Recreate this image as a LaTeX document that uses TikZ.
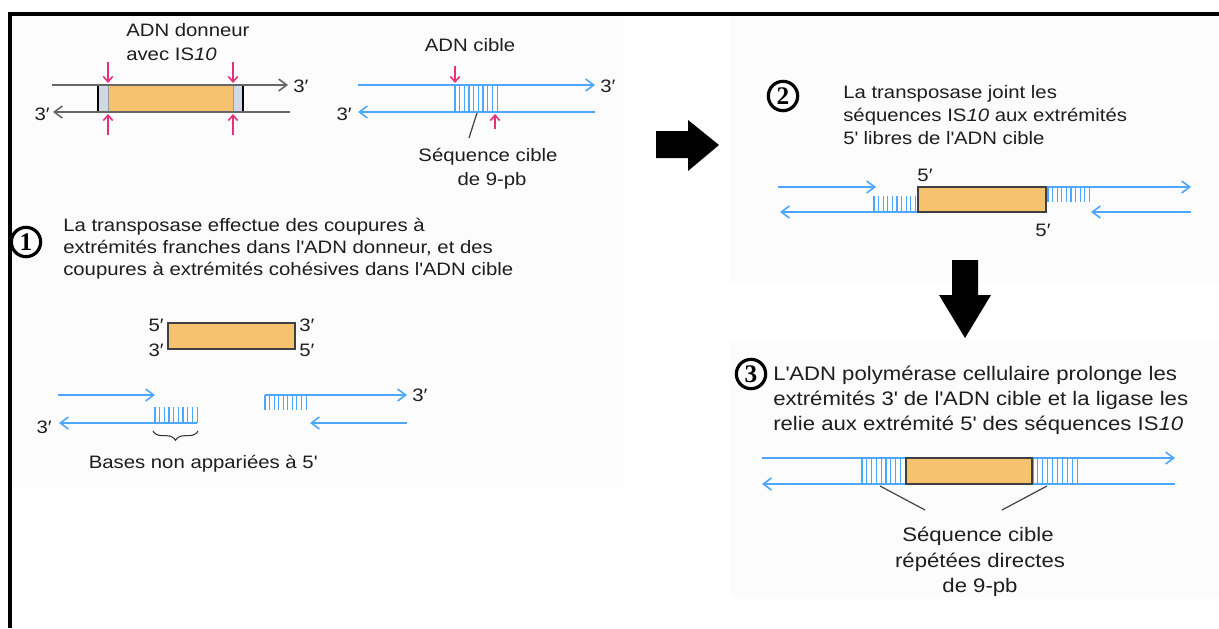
\documentclass[tikz,border=0pt]{standalone}
\usepackage{fontspec}
\setmainfont{Liberation Sans}[FakeStretch=1.13]
\newfontfamily\numfont{Liberation Serif}
\usetikzlibrary{arrows.meta,decorations.pathreplacing}
\definecolor{dna}{RGB}{77,166,255}
\definecolor{ora}{RGB}{246,194,112}
\definecolor{pinkc}{RGB}{232,48,122}
\definecolor{txt}{RGB}{30,30,30}
\definecolor{panel}{RGB}{252,252,252}
\definecolor{endgray}{RGB}{208,216,226}
\newcommand\q{\textquotesingle}
\begin{document}
\begin{tikzpicture}[x=0.75pt,y=-0.75pt,
  ln/.style={font=\fontsize{13.5}{16}\selectfont, text=txt, inner sep=0pt, text height=9.7pt, text depth=0pt, anchor=west},
  ctr/.style={ln, anchor=center},
  lnb/.style={ln, font=\fontsize{14.7}{18}\selectfont, text height=10.6pt},
  ctrb/.style={lnb, anchor=center},
  strand/.style={draw=dna, line width=1.5pt},
  fwd/.style={strand, -{Straight Barb[length=6pt,width=9pt,line width=1.2pt]}},
  gstrand/.style={draw=black!60, line width=1.5pt},
  gfwd/.style={gstrand, -{Straight Barb[length=6pt,width=9pt,line width=1.2pt]}},
  hatch/.style={draw=dna, line width=0.8pt},
  cut/.style={draw=pinkc, line width=1.2pt, -{Straight Barb[length=4pt,width=7pt]}},
  isbox/.style={fill=ora, draw=black!75, line width=1.2pt},
  leader/.style={draw=black!75, line width=0.9pt},
  circnum/.style={circle, draw=black, line width=2.4pt, minimum size=22pt, inner sep=0pt, font=\numfont\bfseries\fontsize{19}{19}\selectfont},
]
\useasboundingbox (0,0) rectangle (1219,628);
\fill[white] (0,0) rectangle (1219,628);
% faint panels
\fill[panel] (12,16) rectangle (624,488);
\fill[panel] (730,16) rectangle (1219,282);
\fill[panel] (730,342) rectangle (1219,597);
% frame
\draw[line width=3pt] (8,14) -- (1219,14);
\draw[line width=3pt] (10,12) -- (10,628);

% ---------- donor DNA ----------
\node[ln] (don1) at (126,30) {ADN donneur};
\node[ln] (don2) at (126,54) {avec IS\textit{10}};
\fill[endgray] (98,85) rectangle (108,112);
\fill[endgray] (233,85) rectangle (243,112);
\fill[ora] (108,85) rectangle (233,112);
\draw[black!40, line width=0.6pt] (108,85) -- (108,112) (233,85) -- (233,112);
\draw[black, line width=1.2pt] (98,85) -- (98,112) (243,85) -- (243,112);
\draw[gfwd] (52,85) -- (288,85);
\draw[gfwd] (290,112) -- (53,112);
\node[ln] (d3a) at (293,86) {3′};
\node[ln, anchor=east] (d3b) at (50,114) {3′};
\draw[cut] (108,62) -- (108,83);
\draw[cut] (108,135) -- (108,114);
\draw[cut] (233,62) -- (233,83);
\draw[cut] (233,135) -- (233,114);

% ---------- target DNA ----------
\node[ctr] (cib) at (470,45) {ADN cible};
\foreach \i in {0,...,9} \draw[hatch] ({455+\i*4.67},85) -- ({455+\i*4.67},112);
\draw[fwd] (358,85) -- (595,85);
\draw[fwd] (595,112) -- (358,112);
\node[ln] (t3a) at (600,86) {3′};
\node[ln, anchor=east] (t3b) at (352,114) {3′};
\draw[cut] (455,66) -- (455,83);
\draw[cut] (495,129) -- (495,114);
\node[ctr] (seq1) at (488,155) {Séquence cible};
\node[ctr] (seq2) at (492,179) {de 9-pb};
\draw[leader] (477,113) -- (469,138);

% ---------- step 1 ----------
\node[circnum] (c1) at (26,242) {1};
\node[ln] (s1a) at (63,225) {La transposase effectue des coupures à};
\node[ln] (s1b) at (63,247) {extrémités franches dans l\q ADN donneur, et des};
\node[ln] (s1c) at (63,269) {coupures à extrémités cohésives dans l\q ADN cible};

\draw[isbox] (168,323) rectangle (295,349);
\node[ln, anchor=east] (b5l) at (164,325) {5′};
\node[ln, anchor=east] (b3l) at (164,350) {3′};
\node[ln] (b3r) at (299,325) {3′};
\node[ln] (b5r) at (299,350) {5′};

\foreach \i in {0,...,9} \draw[hatch] ({155+\i*4.67},407) -- ({155+\i*4.67},423);
\draw[fwd] (58,395) -- (155,395);
\draw[fwd] (197,423) -- (59,423);
\node[ln, anchor=east] (p3l) at (52,427) {3′};
\foreach \i in {0,...,9} \draw[hatch] ({265+\i*4.56},395) -- ({265+\i*4.56},410);
\draw[fwd] (265,395) -- (407,395);
\draw[fwd] (407,423) -- (310,423);
\node[ln] (p3r) at (412,395) {3′};
\draw[black!80, line width=0.8pt, decorate, decoration={brace, mirror, amplitude=7pt}] (153,431) -- (198,431);
\node[ctr] (bases) at (203,462) {Bases non appariées à 5\q};

% ---------- arrows ----------
\fill[black] (656,131) -- (688,131) -- (688,120) -- (719,145) -- (688,171) -- (688,158) -- (656,158) -- cycle;
\fill[black] (952,260) -- (978,260) -- (978,295) -- (991,295) -- (965,338) -- (939,295) -- (952,295) -- cycle;

% ---------- step 2 ----------
\node[circnum] (c2) at (783,96) {2};
\node[ln] (s2a) at (843,92) {La transposase joint les};
\node[ln] (s2b) at (843,115) {séquences IS\textit{10} aux extrémités};
\node[ln] (s2c) at (843,138) {5\q{} libres de l\q ADN cible};
\foreach \i in {0,...,9} \draw[hatch] ({874+\i*4.6},196) -- ({874+\i*4.6},212);
\foreach \i in {0,...,9} \draw[hatch] ({1048+\i*4.6},187) -- ({1048+\i*4.6},202);
\draw[fwd] (778,187) -- (876,187);
\draw[fwd] (920,212) -- (780,212);
\draw[fwd] (1046,187) -- (1191,187);
\draw[fwd] (1191,212) -- (1091,212);
\draw[isbox] (918,187) rectangle (1046,212);
\node[ctr] (s25a) at (925,175) {5′};
\node[ctr] (s25b) at (1043,230) {5′};

% ---------- step 3 ----------
\node[circnum] (c3) at (751,374) {3};
\node[lnb] (s3a) at (773,373) {L\q ADN polymérase cellulaire prolonge les};
\node[lnb] (s3b) at (773,398) {extrémités 3\q{} de l\q ADN cible et la ligase les};
\node[lnb] (s3c) at (773,423) {relie aux extrémité 5\q{} des séquences IS\textit{10}};
\foreach \i in {0,...,9} \draw[hatch] ({862+\i*4.8},458) -- ({862+\i*4.8},484);
\foreach \i in {0,...,9} \draw[hatch] ({1033+\i*4.9},458) -- ({1033+\i*4.9},484);
\draw[fwd] (762,458) -- (1175,458);
\draw[fwd] (1175,484) -- (762,484);
\draw[isbox] (906,458) rectangle (1032,484);
\draw[leader] (880,486) -- (925,510);
\draw[leader] (1047,486) -- (1002,510);
\node[ctrb] (r1) at (978,534) {Séquence cible};
\node[ctrb] (r2) at (980,560) {répétées directes};
\node[ctrb] (r3) at (980,585) {de 9-pb};
\end{tikzpicture}
\end{document}
